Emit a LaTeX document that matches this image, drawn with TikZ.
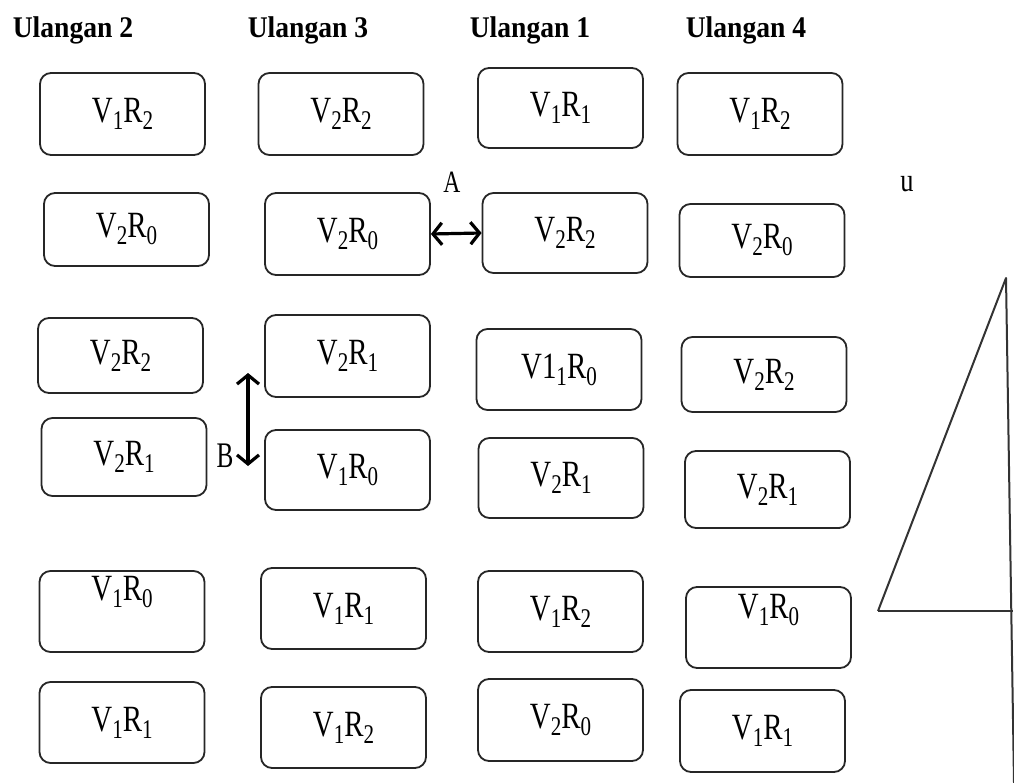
\documentclass[tikz,border=0pt]{standalone}
\usepackage{fontspec}
\setmainfont{Liberation Serif}
\usetikzlibrary{arrows.meta}
\newcommand{\sbs}[1]{\raisebox{-7pt}{\fontsize{27}{27}\selectfont #1}}
\newcommand{\vr}[3][]{\scalebox{0.78}[1]{V#1\sbs{#2}R\sbs{#3}}}
\tikzset{
  box/.style={draw=black!85, line width=1.8pt, rounded corners=11pt, minimum width=165pt, inner sep=0pt, font=\fontsize{37}{40}\selectfont},
  hdr/.style={font=\fontsize{30}{32}\selectfont\bfseries, inner sep=0pt},
  lbl/.style={font=\fontsize{31}{33}\selectfont, inner sep=0pt},
  conn/.style={draw=black, line width=3.2pt, {Straight Barb[length=9pt,width=22pt]}-{Straight Barb[length=9pt,width=22pt]}},
  tri/.style={draw=black!80, line width=2pt, line join=round}
}
\begin{document}
\begin{tikzpicture}[x=1pt,y=-1pt]
\useasboundingbox (0,0) rectangle (1014,783);
% headers
\node[hdr] (h2) at (73,30) {\scalebox{0.92}[1]{Ulangan 2}};
\node[hdr] (h3) at (308,30) {\scalebox{0.92}[1]{Ulangan 3}};
\node[hdr] (h1) at (530,30) {\scalebox{0.92}[1]{Ulangan 1}};
\node[hdr] (h4) at (746,30) {\scalebox{0.92}[1]{Ulangan 4}};
% column 1 (Ulangan 2)
\node[box, minimum height=82pt] (a1) at (122.5,114) {\vr{1}{2}};
\node[box, minimum height=73pt] (a2) at (126.5,229.5) {\vr{2}{0}};
\node[box, minimum height=75pt] (a3) at (120.5,355.5) {\vr{2}{2}};
\node[box, minimum height=78pt] (a4) at (124,457) {\vr{2}{1}};
\node[box, minimum height=81pt, label={[yshift=19pt, font=\fontsize{37}{40}\selectfont, inner sep=0pt]center:\vr{1}{0}}] (a5) at (122,611.5) {};
\node[box, minimum height=81pt] (a6) at (122,722.5) {\vr{1}{1}};
% column 2 (Ulangan 3)
\node[box, minimum height=82pt] (b1) at (341,114) {\vr{2}{2}};
\node[box, minimum height=82pt] (b2) at (347.5,234) {\vr{2}{0}};
\node[box, minimum height=82pt] (b3) at (347.5,356) {\vr{2}{1}};
\node[box, minimum height=80pt] (b4) at (347.5,470) {\vr{1}{0}};
\node[box, minimum height=81pt] (b5) at (343.5,608.5) {\vr{1}{1}};
\node[box, minimum height=81pt] (b6) at (343.5,727.5) {\vr{1}{2}};
% column 3 (Ulangan 1)
\node[box, minimum height=80pt] (c1) at (560.5,108) {\vr{1}{1}};
\node[box, minimum height=80pt] (c2) at (565,233) {\vr{2}{2}};
\node[box, minimum height=81pt] (c3) at (559,369.5) {\vr[1]{1}{0}};
\node[box, minimum height=80pt] (c4) at (561,478) {\vr{2}{1}};
\node[box, minimum height=81pt] (c5) at (560.5,611.5) {\vr{1}{2}};
\node[box, minimum height=82pt] (c6) at (560.5,720) {\vr{2}{0}};
% column 4 (Ulangan 4)
\node[box, minimum height=82pt] (d1) at (760,114) {\vr{1}{2}};
\node[box, minimum height=73pt] (d2) at (762,240.5) {\vr{2}{0}};
\node[box, minimum height=75pt] (d3) at (764,374.5) {\vr{2}{2}};
\node[box, minimum height=77pt] (d4) at (767.5,489.5) {\vr{2}{1}};
\node[box, minimum height=81pt, label={[yshift=17pt, font=\fontsize{37}{40}\selectfont, inner sep=0pt]center:\vr{1}{0}}] (d5) at (768.5,627.5) {};
\node[box, minimum height=82pt] (d6) at (762.5,731) {\vr{1}{1}};
% labels
\node[lbl] (la) at (452,182) {\scalebox{0.76}[1]{A}};
\node[lbl, font=\fontsize{36}{38}\selectfont] (lb) at (225,456) {\scalebox{0.7}[1]{B}};
\node[lbl, font=\fontsize{33}{35}\selectfont] (lu) at (907,184) {\scalebox{0.8}[1]{u}};
% connectors
\draw[conn] (b2.east) -- (c2.west);
\coordinate (bt) at (248,373);
\coordinate (bb) at (248,466);
\draw[conn] (bt) -- (bb);
% triangle
\coordinate (t1) at (878,611);
\coordinate (t2) at (1006,278);
\coordinate (t3) at (1013,611);
\coordinate (t4) at (1014,783);
\draw[tri] (t1) -- (t2) -- (t4);
\draw[tri] (t1) -- (t3);
\end{tikzpicture}
\end{document}
